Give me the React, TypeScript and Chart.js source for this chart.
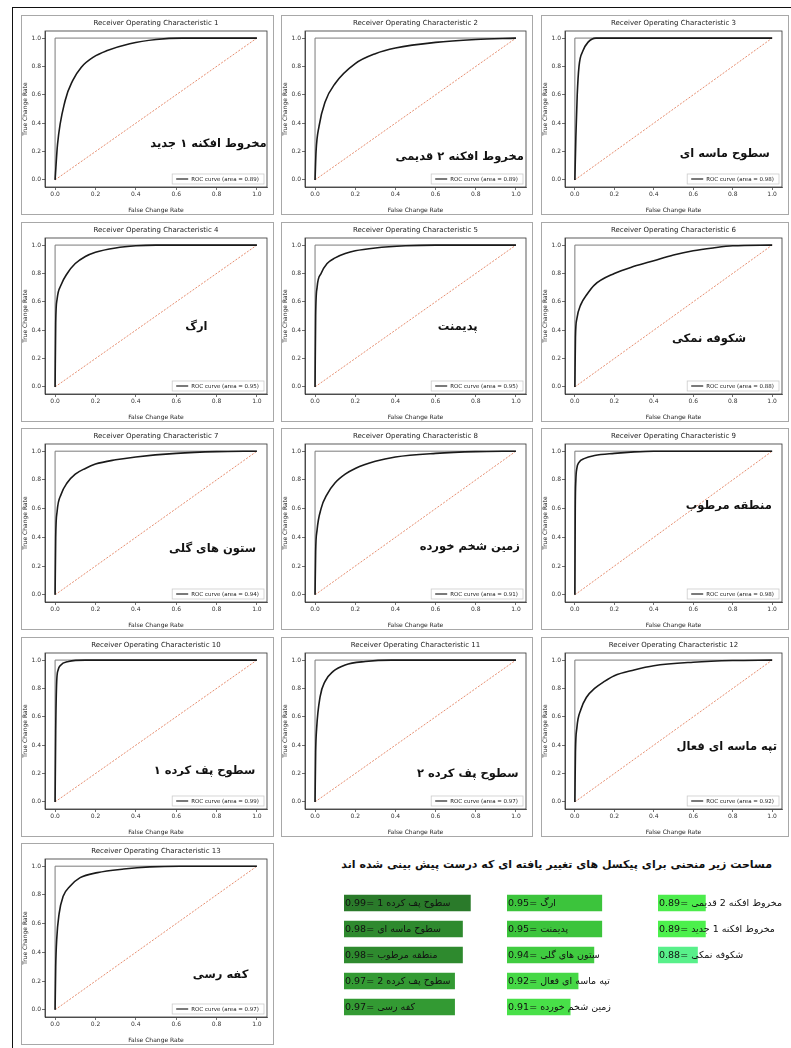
import React, { useEffect, useRef } from 'react';
import { Chart, registerables } from 'chart.js';
Chart.register(...registerables);

// ---------- data ----------
const TICK_VALUES = [0, 0.2, 0.4, 0.6, 0.8, 1.0];
const PANEL_TITLES = [1, 2, 3, 4, 5, 6, 7, 8, 9, 10, 11, 12, 13].map((n) => `Receiver Operating Characteristic ${n}`);
const REGION_NAMES = [
  'مخروط افکنه ۱ جدید',
  'مخروط افکنه ۲ قدیمی',
  'سطوح ماسه ای',
  'ارگ',
  'پدیمنت',
  'شکوفه نمکی',
  'ستون های گلی',
  'زمین شخم خورده',
  'منطقه مرطوب',
  'سطوح پف کرده ۱',
  'سطوح پف کرده ۲',
  'تپه ماسه ای فعال',
  'کفه رسی',
];
const AUC_VALUES = [0.89, 0.89, 0.98, 0.95, 0.95, 0.88, 0.94, 0.91, 0.98, 0.99, 0.97, 0.92, 0.97];
const LABEL_X = [0.76, 0.72, 0.76, 0.7, 0.71, 0.68, 0.78, 0.77, 0.78, 0.74, 0.76, 0.77, 0.82];
const LABEL_Y = [0.25, 0.16, 0.18, 0.42, 0.42, 0.34, 0.32, 0.33, 0.62, 0.22, 0.2, 0.39, 0.24];

const FPR_01 = [0, 0.012, 0.05, 0.087, 0.13, 0.19, 0.255, 0.37, 0.5, 0.63, 1];
const TPR_01 = [0, 0.25, 0.56, 0.7, 0.795, 0.866, 0.91, 0.96, 0.99, 1, 1];
const FPR_02 = [0, 0.005, 0.02, 0.05, 0.1, 0.2, 0.3, 0.4, 0.6, 0.8, 1];
const TPR_02 = [0, 0.2, 0.38, 0.55, 0.68, 0.82, 0.89, 0.93, 0.97, 0.99, 1];
const FPR_03 = [0, 0.005, 0.012, 0.021, 0.041, 0.066, 0.107, 1];
const TPR_03 = [0, 0.3, 0.6, 0.8, 0.91, 0.97, 1, 1];
const FPR_04 = [0, 0.003, 0.01, 0.03, 0.06, 0.1, 0.15, 0.2, 0.3, 0.4, 0.5, 1];
const TPR_04 = [0, 0.45, 0.62, 0.72, 0.8, 0.87, 0.92, 0.95, 0.98, 0.995, 1, 1];
const FPR_05 = [0, 0.003, 0.01, 0.03, 0.06, 0.1, 0.15, 0.2, 0.3, 0.45, 0.6, 1];
const TPR_05 = [0, 0.5, 0.7, 0.8, 0.87, 0.91, 0.94, 0.96, 0.98, 0.995, 1, 1];
const FPR_06 = [0, 0.003, 0.01, 0.03, 0.06, 0.1, 0.2, 0.3, 0.4, 0.5, 0.6, 0.7, 0.8, 1];
const TPR_06 = [0, 0.35, 0.48, 0.58, 0.65, 0.72, 0.8, 0.85, 0.89, 0.93, 0.96, 0.98, 0.995, 1];
const FPR_07 = [0, 0.003, 0.01, 0.03, 0.06, 0.1, 0.15, 0.2, 0.3, 0.4, 0.6, 0.8, 1];
const TPR_07 = [0, 0.4, 0.58, 0.7, 0.78, 0.84, 0.88, 0.91, 0.94, 0.96, 0.985, 0.997, 1];
const FPR_08 = [0, 0.003, 0.01, 0.03, 0.06, 0.1, 0.15, 0.2, 0.3, 0.4, 0.6, 0.8, 1];
const TPR_08 = [0, 0.3, 0.45, 0.6, 0.7, 0.78, 0.84, 0.88, 0.93, 0.96, 0.985, 0.997, 1];
const FPR_09 = [0, 0.002, 0.005, 0.01, 0.02, 0.05, 0.1, 0.2, 0.3, 0.4, 1];
const TPR_09 = [0, 0.6, 0.8, 0.88, 0.92, 0.95, 0.97, 0.985, 0.995, 1, 1];
const FPR_10 = [0, 0.003, 0.008, 0.015, 0.025, 0.066, 0.15, 1];
const TPR_10 = [0, 0.5, 0.85, 0.93, 0.96, 0.99, 1, 1];
const FPR_11 = [0, 0.003, 0.008, 0.025, 0.05, 0.09, 0.15, 0.25, 0.38, 1];
const TPR_11 = [0, 0.35, 0.52, 0.74, 0.85, 0.92, 0.966, 0.99, 1, 1];
const FPR_12 = [0, 0.003, 0.01, 0.03, 0.06, 0.1, 0.15, 0.2, 0.3, 0.4, 0.6, 0.8, 1];
const TPR_12 = [0, 0.35, 0.52, 0.65, 0.74, 0.8, 0.85, 0.89, 0.93, 0.96, 0.985, 0.997, 1];
const FPR_13 = [0, 0.003, 0.008, 0.02, 0.04, 0.074, 0.124, 0.21, 0.34, 0.47, 0.62, 1];
const TPR_13 = [0, 0.3, 0.49, 0.67, 0.79, 0.86, 0.92, 0.955, 0.98, 0.995, 1, 1];

const CURVES_FPR = [FPR_01, FPR_02, FPR_03, FPR_04, FPR_05, FPR_06, FPR_07, FPR_08, FPR_09, FPR_10, FPR_11, FPR_12, FPR_13];
const CURVES_TPR = [TPR_01, TPR_02, TPR_03, TPR_04, TPR_05, TPR_06, TPR_07, TPR_08, TPR_09, TPR_10, TPR_11, TPR_12, TPR_13];

const PERFECT_X = [0, 0, 1];
const PERFECT_Y = [0, 1, 1];
const CHANCE_X = [0, 1];
const CHANCE_Y = [0, 1];

const SUMMARY_TITLE = 'مساحت زیر منحنی برای پیکسل های تغییر یافته ای که درست پیش بینی شده اند';
const COL1_LABELS = ['سطوح پف کرده 1', 'سطوح ماسه ای', 'منطقه مرطوب', 'سطوح پف کرده 2', 'کفه رسی'];
const COL1_VALUES = [0.99, 0.98, 0.98, 0.97, 0.97];
const COL2_LABELS = ['ارگ', 'پدیمنت', 'ستون های گلی', 'تپه ماسه ای فعال', 'زمین شخم خورده'];
const COL2_VALUES = [0.95, 0.95, 0.94, 0.92, 0.91];
const COL3_LABELS = ['مخروط افکنه 2 قدیمی', 'مخروط افکنه 1 جدید', 'شکوفه نمکی'];
const COL3_VALUES = [0.89, 0.89, 0.88];

// ---------- styles / layout ----------
const FONT = '"DejaVu Sans", sans-serif';
const COL1_COLORS = ['#2a7a2a', '#2e8a2e', '#2e8a2e', '#339a33', '#339a33'];
const COL2_COLORS = ['#3cc43c', '#3cc43c', '#40cc40', '#46d846', '#48e048'];
const COL3_COLORS = ['#4cec4c', '#4cf04c', '#58f08a'];
const BAR_BASE = 0.83;
const BAR_PX_PER_UNIT = 790;

const COL_X = [21, 281, 541];
const COL_W = [253, 252, 248];
const ROW_Y = [15, 222, 428, 637, 843];
const ROW_H = [200, 200, 202, 200, 202];

const framePlugin = {
  id: 'frame',
  afterDatasetsDraw(chart: any) {
    const { ctx, chartArea } = chart;
    ctx.save();
    ctx.strokeStyle = '#333';
    ctx.lineWidth = 0.8;
    ctx.strokeRect(chartArea.left, chartArea.top, chartArea.right - chartArea.left, chartArea.bottom - chartArea.top);
    ctx.restore();
  },
};

const overlayPlugin = {
  id: 'overlay',
  afterDraw(chart: any, _args: any, opts: any) {
    const { ctx, chartArea } = chart;
    const xs = chart.scales.x;
    const ys = chart.scales.y;
    ctx.save();
    // title
    ctx.fillStyle = '#222';
    ctx.font = `7px ${FONT}`;
    ctx.textAlign = 'center';
    ctx.textBaseline = 'middle';
    ctx.fillText(opts.title, (chartArea.left + chartArea.right) / 2, 7);
    // region label
    ctx.direction = 'rtl';
    ctx.font = `bold 11.5px ${FONT}`;
    ctx.fillStyle = '#111';
    ctx.fillText(opts.region, xs.getPixelForValue(opts.lx), ys.getPixelForValue(opts.ly));
    ctx.direction = 'ltr';
    // legend
    ctx.font = `5.5px ${FONT}`;
    const text = opts.legend;
    const tw = ctx.measureText(text).width;
    const bw = tw + 24;
    const bh = 10;
    const bx = chartArea.right - 3 - bw;
    const by = chartArea.bottom - 3 - bh;
    ctx.fillStyle = '#fff';
    ctx.fillRect(bx, by, bw, bh);
    ctx.strokeStyle = '#ccc';
    ctx.lineWidth = 0.8;
    ctx.strokeRect(bx, by, bw, bh);
    ctx.strokeStyle = '#222';
    ctx.lineWidth = 1.2;
    ctx.beginPath();
    ctx.moveTo(bx + 4, by + bh / 2);
    ctx.lineTo(bx + 16, by + bh / 2);
    ctx.stroke();
    ctx.fillStyle = '#222';
    ctx.textAlign = 'left';
    ctx.fillText(text, bx + 19, by + bh / 2 + 0.5);
    ctx.restore();
  },
};

function toPoints(xs: number[], ys: number[]) {
  return xs.map((x, i) => ({ x, y: ys[i] }));
}

function RocPanel({ idx, left, top, width, height }: any) {
  const ref = useRef<HTMLCanvasElement>(null);
  useEffect(() => {
    const axisCommon = (title: string) => ({
      type: 'linear' as const,
      min: -0.05,
      max: 1.05,
      afterBuildTicks: (s: any) => {
        s.ticks = TICK_VALUES.map((value) => ({ value }));
      },
      ticks: {
        font: { family: FONT, size: 6 },
        color: '#333',
        padding: 1,
        maxRotation: 0,
        autoSkip: false,
        callback: (v: any) => Number(v).toFixed(1),
      },
      grid: { drawOnChartArea: false, drawTicks: true, tickLength: 3, color: '#333', lineWidth: 0.7 },
      border: { display: true, color: '#333', width: 0.8 },
      title: { display: true, text: title, font: { family: FONT, size: 6 }, color: '#222', padding: 0 },
    });
    const chart = new Chart(ref.current as HTMLCanvasElement, {
      type: 'line',
      data: {
        datasets: [
          {
            label: 'ROC',
            data: toPoints(CURVES_FPR[idx], CURVES_TPR[idx]),
            borderColor: '#1a1a1a',
            borderWidth: 1.6,
            pointRadius: 0,
            cubicInterpolationMode: 'monotone',
            fill: false,
          },
          {
            label: 'perfect',
            data: toPoints(PERFECT_X, PERFECT_Y),
            borderColor: '#7a7a7a',
            borderWidth: 1,
            pointRadius: 0,
            fill: false,
          },
          {
            label: 'chance',
            data: toPoints(CHANCE_X, CHANCE_Y),
            borderColor: '#e0704a',
            borderWidth: 0.8,
            borderDash: [2, 1.5],
            pointRadius: 0,
            fill: false,
          },
        ],
      },
      options: {
        animation: false,
        responsive: false,
        parsing: false,
        layout: { padding: { top: 15, right: 6, left: 0, bottom: 0 } },
        plugins: {
          legend: { display: false },
          title: { display: false },
          tooltip: { enabled: false },
          overlay: {
            title: PANEL_TITLES[idx],
            region: REGION_NAMES[idx],
            lx: LABEL_X[idx],
            ly: LABEL_Y[idx],
            legend: `ROC curve (area = ${AUC_VALUES[idx].toFixed(2)})`,
          },
        } as any,
        scales: {
          x: { ...axisCommon('False Change Rate'), afterFit: (s: any) => { s.height = 27; } },
          y: { ...axisCommon('True Change Rate'), afterFit: (s: any) => { s.width = 23; } },
        } as any,
      },
      plugins: [framePlugin, overlayPlugin],
    });
    return () => chart.destroy();
  }, [idx]);
  return (
    <div
      style={{
        position: 'absolute',
        left,
        top,
        width,
        height,
        boxSizing: 'border-box',
        border: '1px solid #a8a8a8',
        background: '#fff',
      }}
    >
      <canvas ref={ref} width={width - 2} height={height - 2} style={{ display: 'block' }} />
    </div>
  );
}

const barTextPlugin = {
  id: 'barText',
  afterDraw(chart: any, _args: any, opts: any) {
    const { ctx, chartArea } = chart;
    const ys = chart.scales.y;
    const labels: string[] = opts.labels || [];
    const values: number[] = opts.values || [];
    ctx.save();
    ctx.font = `9.5px ${FONT}`;
    ctx.fillStyle = '#111';
    ctx.direction = 'rtl';
    ctx.textAlign = 'left';
    ctx.textBaseline = 'middle';
    labels.forEach((lab, i) => {
      const y = ys.getPixelForValue(i);
      ctx.fillText(`${lab} =${values[i].toFixed(2)}`, chartArea.left + 1, y + 0.5);
    });
    ctx.restore();
  },
};

function SummaryColumn({ labels, values, colors, left, top, width }: any) {
  const ref = useRef<HTMLCanvasElement>(null);
  const height = labels.length * 26;
  useEffect(() => {
    const chart = new Chart(ref.current as HTMLCanvasElement, {
      type: 'bar',
      data: {
        labels,
        datasets: [{ data: values, backgroundColor: colors, barThickness: 16, borderWidth: 0 }],
      },
      options: {
        indexAxis: 'y',
        animation: false,
        responsive: false,
        layout: { padding: 0 },
        plugins: {
          legend: { display: false },
          tooltip: { enabled: false },
          title: { display: false },
          barText: { labels, values },
        } as any,
        scales: {
          x: { display: false, min: BAR_BASE, max: BAR_BASE + width / BAR_PX_PER_UNIT },
          y: { display: false },
        },
      },
      plugins: [barTextPlugin],
    });
    return () => chart.destroy();
  }, []);
  return (
    <canvas
      ref={ref}
      width={width}
      height={height}
      style={{ position: 'absolute', left, top, width, height, display: 'block' }}
    />
  );
}

export default function App() {
  const panels = [];
  for (let i = 0; i < 13; i++) {
    const r = Math.floor(i / 3);
    const c = i % 3;
    panels.push(
      <RocPanel key={i} idx={i} left={COL_X[c]} top={ROW_Y[r]} width={COL_W[c]} height={ROW_H[r]} />
    );
  }
  return (
    <div style={{ position: 'absolute', left: 0, top: 0, width: 791, height: 1048, background: '#fff', overflow: 'hidden' }}>
      <div style={{ position: 'absolute', left: 12, top: 7, width: 779, height: 0, borderTop: '1.5px solid #111' }} />
      <div style={{ position: 'absolute', left: 12, top: 7, width: 0, height: 1041, borderLeft: '1.5px solid #111' }} />
      {panels}
      <div
        style={{
          position: 'absolute',
          right: 791 - 772,
          top: 858,
          whiteSpace: 'nowrap',
          direction: 'rtl',
          fontFamily: FONT,
          fontWeight: 'bold',
          fontSize: 11,
          color: '#111',
        }}
      >
        {SUMMARY_TITLE}
      </div>
      <SummaryColumn labels={COL1_LABELS} values={COL1_VALUES} colors={COL1_COLORS} left={344} top={890} width={160} />
      <SummaryColumn labels={COL2_LABELS} values={COL2_VALUES} colors={COL2_COLORS} left={507} top={890} width={148} />
      <SummaryColumn labels={COL3_LABELS} values={COL3_VALUES} colors={COL3_COLORS} left={658} top={890} width={130} />
    </div>
  );
}
